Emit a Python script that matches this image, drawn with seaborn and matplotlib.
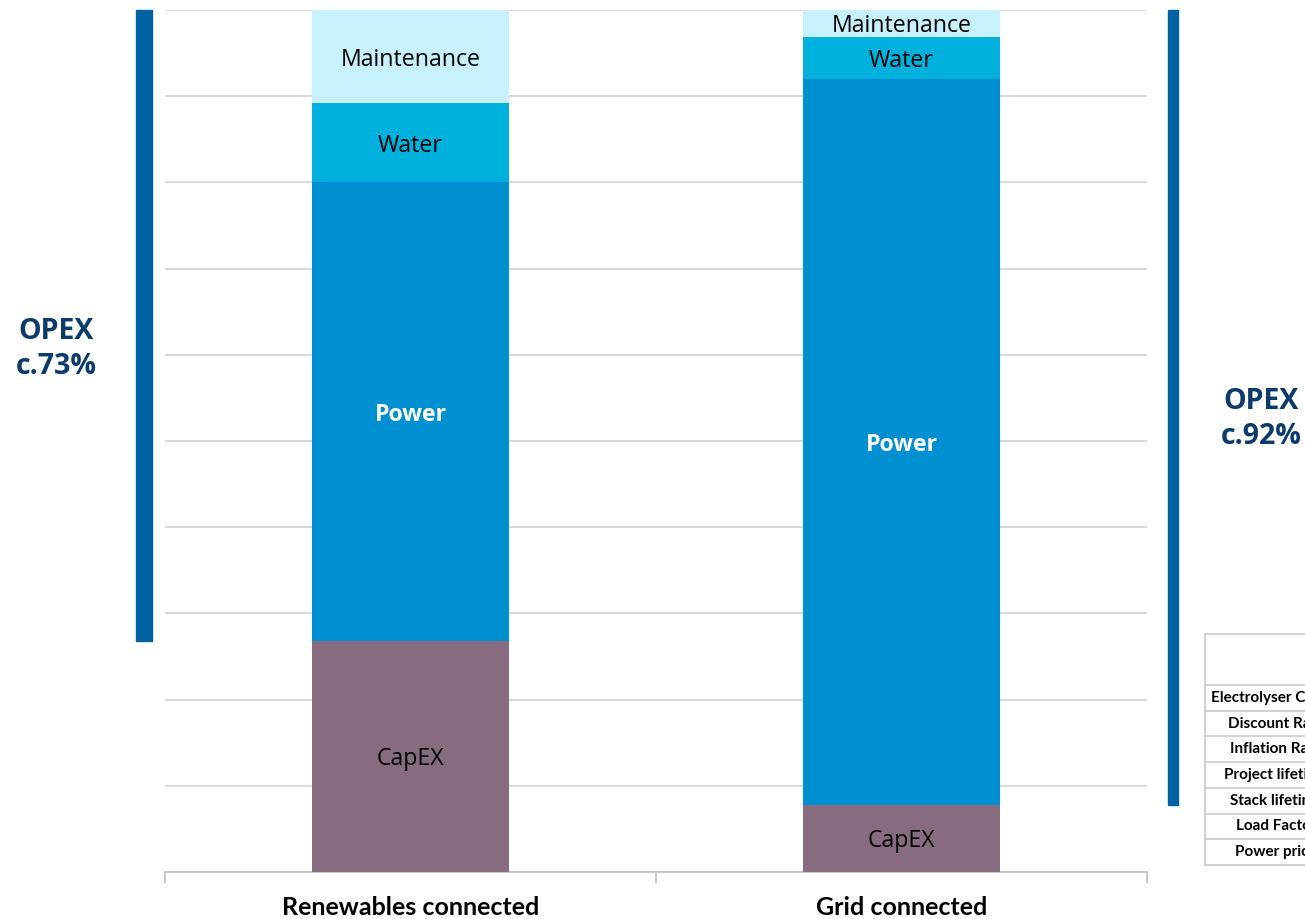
import matplotlib
matplotlib.use("Agg")
import matplotlib.pyplot as plt
import matplotlib.transforms as mtransforms
from matplotlib.patches import Rectangle
from matplotlib.lines import Line2D
import numpy as np
import pandas as pd
import seaborn as sns

# Share of levelised hydrogen cost by component (%)
scenarios = ["Renewables connected", "Grid connected"]
components = ["CapEX", "Power", "Water", "Maintenance"]
capex = [26.8, 7.8]
power = [53.2, 84.2]
water = [9.2, 4.9]
maintenance = [10.8, 3.1]
opex_labels = ["OPEX\nc.73%", "OPEX\nc.92%"]
table_rows = ["Electrolyser CapEX", "Discount Rate", "Inflation Rate",
              "Project lifetime", "Stack lifetime", "Load Factor", "Power price"]

colors = {"CapEX": "#866c7e", "Power": "#008fd1", "Water": "#00b0dd",
          "Maintenance": "#c6f1fd"}
label_style = {"CapEX": ("black", "normal"), "Power": ("white", "bold"),
               "Water": ("black", "normal"), "Maintenance": ("black", "normal")}
navy = "#0b3a6c"
marker_blue = "#0061a3"

sns.set_theme(style="white")
plt.rcParams["font.family"] = ["Open Sans", "DejaVu Sans"]

W, H = 1305, 919
fig = plt.figure(figsize=(W / 100, H / 100), dpi=100)
ax = fig.add_axes([165 / W, (H - 872) / H, (1147 - 165) / W, (872 - 10) / H])

values = {"CapEX": capex, "Power": power, "Water": water, "Maintenance": maintenance}
df = pd.DataFrame(values, index=scenarios)
cum = df[components].cumsum(axis=1)

# Stacked bars: draw cumulative totals from the top segment down
for comp in reversed(components):
    sns.barplot(x=scenarios, y=cum[comp].values, color=colors[comp],
                width=0.4, saturation=1, ax=ax, zorder=3, linewidth=0)

# Segment labels centred in each block
for i, sc in enumerate(scenarios):
    bottom = 0
    for comp in components:
        v = df.loc[sc, comp]
        c, w = label_style[comp]
        ax.text(i, bottom + v / 2, comp, ha="center", va="center_baseline",
                color=c, fontweight=w, fontsize=16.7, zorder=4)
        bottom += v

ax.set_xlim(-0.5, 1.5)
ax.set_ylim(0, 100)
ax.set_yticks(np.arange(0, 101, 10))
ax.set_yticklabels([])
ax.tick_params(axis="y", length=0)
ax.grid(axis="y", color="#d9d9d9", linewidth=1.5, zorder=0)
ax.set_axisbelow(True)
for s in ["top", "right", "left"]:
    ax.spines[s].set_visible(False)
ax.spines["bottom"].set_color("#bfbfbf")
ax.spines["bottom"].set_linewidth(1.2)

ax.set_xticks([0, 1])
ax.set_xticklabels(scenarios, fontfamily="Lato", fontweight="bold", fontsize=18,
                   color="black")
ax.tick_params(axis="x", which="major", length=0, pad=17)
ax.set_xticks([-0.5, 0.5, 1.5], minor=True)
ax.tick_params(axis="x", which="minor", length=8, width=1.2, color="#bfbfbf",
               bottom=True)
ax.set_xlabel("")

# OPEX brackets beside the chart, spanning the operating-cost share
blend = mtransforms.blended_transform_factory(fig.transFigure, ax.transData)
opex_start = [capex[0], capex[1]]
bar_x = [(136 / W, 16 / W), (1168 / W, 10 / W)]
for (x0, w), y0 in zip(bar_x, opex_start):
    fig.patches.append(Rectangle((x0, y0), w, 100 - y0, transform=blend,
                                 color=marker_blue, clip_on=False))

fig.text(56 / W, 1 - 349 / H, opex_labels[0], ha="center", va="center",
         fontsize=20.5, fontweight="bold", color=navy, linespacing=1.25)
fig.text(1261 / W, 1 - 419 / H, opex_labels[1], ha="center", va="center",
         fontsize=20.5, fontweight="bold", color=navy, linespacing=1.25)

# Assumptions table in the lower right corner
tx0 = 1205
ttop = 634
head = 685
row_h = 25.7
grid_c = "#c8c8c8"
n = len(table_rows)
bottom_y = head + n * row_h
lines = [((tx0, ttop), (W + 5, ttop)), ((tx0, ttop), (tx0, bottom_y))]
for k in range(n + 1):
    yy = head + k * row_h
    lines.append(((tx0, yy), (W + 5, yy)))
for (xa, ya), (xb, yb) in lines:
    fig.lines.append(Line2D([xa / W, xb / W], [1 - ya / H, 1 - yb / H],
                            transform=fig.transFigure, color=grid_c, linewidth=1.2))
for k, name in enumerate(table_rows):
    yy = head + (k + 0.5) * row_h
    fig.text(1276 / W, 1 - yy / H, name, ha="center", va="center",
             fontfamily="Lato", fontweight="bold", fontsize=11, color="black")

fig.savefig("out.png", dpi=100)
